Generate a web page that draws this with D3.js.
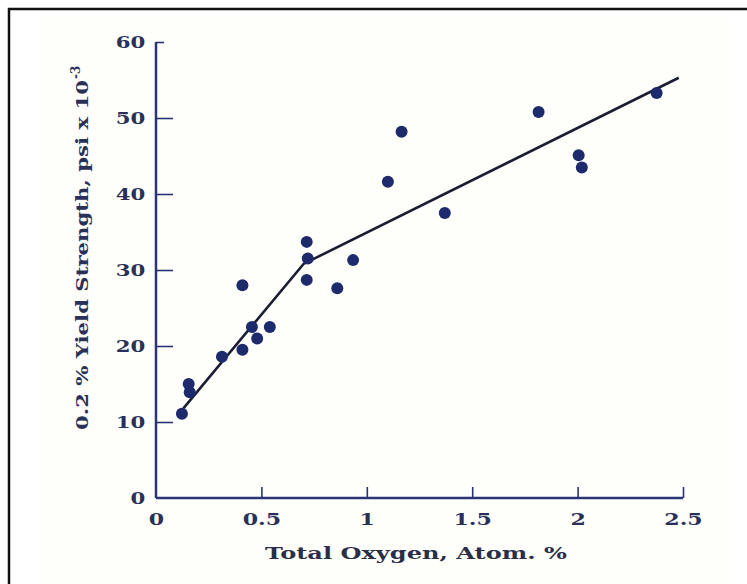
<!DOCTYPE html>
<html><head><meta charset="utf-8">
<script src="https://cdn.jsdelivr.net/npm/d3@7"></script>
<style>body{margin:0;background:#fff}svg{display:block}</style>
</head><body>
<script>
const xTicks = [0, 0.5, 1, 1.5, 2, 2.5];
const xTickLabels = ["0", "0.5", "1", "1.5", "2", "2.5"];
const yTicks = [0, 10, 20, 30, 40, 50, 60];
const oxygen = [0.123, 0.155, 0.16, 0.313, 0.41, 0.41, 0.455, 0.48, 0.54, 0.715, 0.72, 0.715, 0.86, 0.935, 1.10, 1.165, 1.37, 1.815, 2.005, 2.02, 2.375];
const strength = [11.1, 15.0, 13.9, 18.6, 19.5, 28.0, 22.5, 21.0, 22.5, 33.7, 31.5, 28.7, 27.6, 31.3, 41.6, 48.2, 37.5, 50.8, 45.1, 43.5, 53.3];
const fitX = [0.13, 0.70, 2.48];
const fitY = [11.8, 30.8, 55.3];

const W = 747, H = 584;
const svg = d3.select("body").append("svg").attr("width", W).attr("height", H);
svg.append("rect").attr("x", 40).attr("y", 17).attr("width", 690).attr("height", H - 17).attr("fill", "#fefefa");
svg.append("path").attr("d", `M9,${H + 5}V9H${W + 5}`).attr("fill", "none").attr("stroke", "#111").attr("stroke-width", 2.5);

const x = d3.scaleLinear().domain([0, 2.5]).range([156, 683]);
const y = d3.scaleLinear().domain([0, 60]).range([498, 42]);
const axisColor = "#2b3576";
const txtColor = "#2a3158";
const font = "'DejaVu Serif', serif";

// axes
const xa = svg.append("g").attr("transform", "translate(0,498)")
  .call(d3.axisBottom(x).tickValues(xTicks).tickFormat((d, i) => xTickLabels[i]).tickSize(-11));
xa.select(".domain").attr("stroke", axisColor).attr("stroke-width", 2.5).attr("d", `M${x(0)},0H${x(2.5)}`);
xa.selectAll(".tick line").attr("stroke", axisColor).attr("stroke-width", 1.6);
xa.selectAll(".tick").filter(d => d === 0).select("line").remove();
xa.selectAll("text").attr("fill", txtColor).attr("font-family", font).attr("font-weight", "bold")
  .attr("font-size", 17).attr("dy", null).attr("y", 27).attr("transform", "scale(1.3,1)");

const ya = svg.append("g").attr("transform", "translate(156,0)")
  .call(d3.axisLeft(y).tickValues(yTicks).tickSize(-17));
ya.select(".domain").attr("stroke", axisColor).attr("stroke-width", 2.5).attr("d", `M0,${y(0)}V${y(60)}`);
ya.selectAll(".tick line").attr("stroke", axisColor).attr("stroke-width", 1.6);
ya.selectAll(".tick").filter(d => d === 0).select("line").remove();
ya.selectAll(".tick").filter(d => d === 60).select("line").attr("x2", 8);
ya.selectAll("text").attr("fill", txtColor).attr("font-family", font).attr("font-weight", "bold")
  .attr("font-size", 17).attr("x", -8.5).attr("transform", "scale(1.25,1)");

// fit line
svg.append("path").datum(fitX.map((v, i) => [v, fitY[i]]))
  .attr("d", d3.line().x(d => x(d[0])).y(d => y(d[1])))
  .attr("fill", "none").attr("stroke", "#1a1d33").attr("stroke-width", 2.6);

// points
svg.append("g").selectAll("circle").data(oxygen.map((v, i) => [v, strength[i]])).join("circle")
  .attr("cx", d => x(d[0])).attr("cy", d => y(d[1])).attr("r", 6).attr("fill", "#1d2a6c");

// labels
svg.append("text").attr("x", 265).attr("y", 559).attr("text-anchor", "start")
  .attr("textLength", 302).attr("lengthAdjust", "spacingAndGlyphs")
  .attr("fill", "#2a2e48").attr("font-family", font).attr("font-weight", "bold").attr("font-size", 17)
  .text("Total Oxygen, Atom. %");
svg.append("text").attr("transform", "translate(88,430) rotate(-90)").attr("text-anchor", "start")
  .attr("textLength", 350).attr("lengthAdjust", "spacingAndGlyphs")
  .attr("fill", txtColor).attr("font-family", font).attr("font-weight", "bold").attr("font-size", 16)
  .text("0.2 % Yield Strength, psi x 10");
svg.append("text").attr("transform", "translate(80,79) rotate(-90)").attr("text-anchor", "start")
  .attr("fill", txtColor).attr("font-family", font).attr("font-weight", "bold").attr("font-size", 12)
  .text("-3");
</script>
</body></html>
